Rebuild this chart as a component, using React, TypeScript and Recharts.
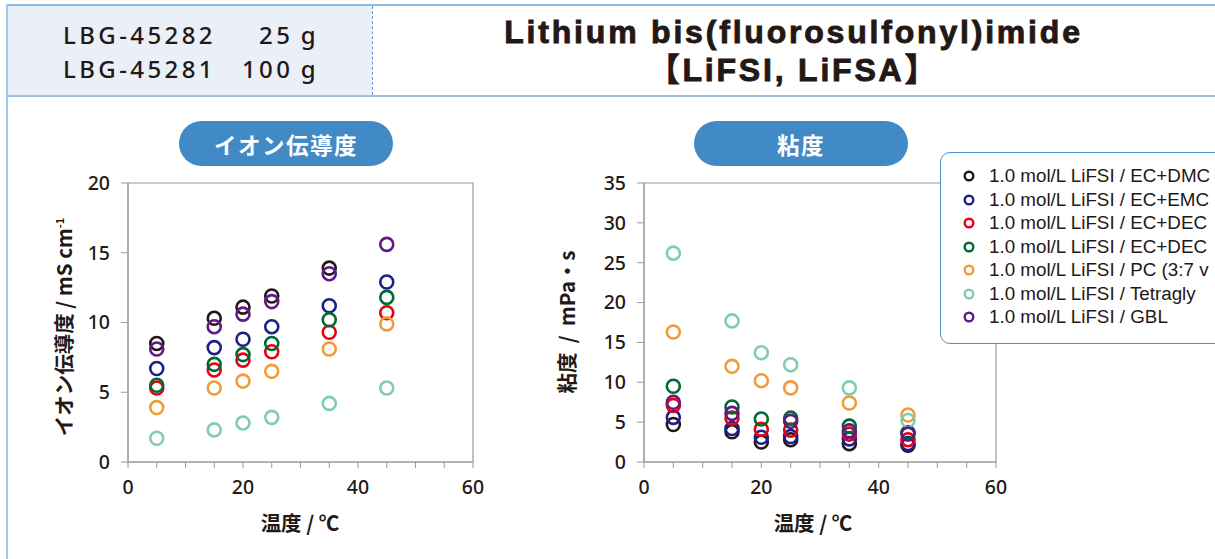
import React from "react";
import { ScatterChart, Scatter, XAxis, YAxis, ReferenceArea } from "recharts";

// temperatures (°C) measured for every electrolyte
const temps = [5, 15, 20, 25, 35, 45];

// legend labels as far as they are visible in the source (the box runs off the page)
const seriesNames = [
  "1.0 mol/L LiFSI / EC+DMC",
  "1.0 mol/L LiFSI / EC+EMC",
  "1.0 mol/L LiFSI / EC+DEC",
  "1.0 mol/L LiFSI / EC+DEC",
  "1.0 mol/L LiFSI / PC (3:7 v",
  "1.0 mol/L LiFSI / Tetragly",
  "1.0 mol/L LiFSI / GBL",
];
const seriesColors = ["#231815", "#1d2088", "#e60012", "#006934", "#f39a3a", "#80cdb2", "#601986"];

// ion conductivity, mS cm-1
const condDMC = [8.5, 10.3, 11.1, 11.9, 13.9, null];
const condEMC = [6.7, 8.2, 8.8, 9.7, 11.2, 12.9];
const condDEC37 = [5.3, 6.6, 7.3, 7.9, 9.3, 10.7];
const condDEC11 = [5.5, 7.0, 7.7, 8.5, 10.2, 11.8];
const condPC = [3.9, 5.3, 5.8, 6.5, 8.1, 9.9];
const condTG = [1.7, 2.3, 2.8, 3.2, 4.2, 5.3];
const condGBL = [8.1, 9.7, 10.6, 11.5, 13.5, 15.6];

// viscosity, mPa s
const viscDMC = [4.7, 3.8, 2.5, 2.8, 2.3, 2.1];
const viscEMC = [5.6, 4.2, 3.1, 3.2, 2.9, 2.3];
const viscDEC37 = [7.1, 5.5, 4.1, 4.0, 3.5, 2.8];
const viscDEC11 = [9.5, 6.9, 5.4, 5.5, 4.5, 3.7];
const viscPC = [16.3, 12.0, 10.2, 9.3, 7.4, 5.9];
const viscTG = [26.2, 17.7, 13.7, 12.2, 9.3, 5.2];
const viscGBL = [7.5, 6.1, null, 5.1, 3.9, 3.5];

const condSeries = [condDMC, condEMC, condDEC37, condDEC11, condPC, condTG, condGBL];
const viscSeries = [viscDMC, viscEMC, viscDEC37, viscDEC11, viscPC, viscTG, viscGBL];

const xTicks = [0, 5, 10, 15, 20, 25, 30, 35, 40, 45, 50, 55, 60];
const condTicks = [0, 5, 10, 15, 20];
const viscTicks = [0, 5, 10, 15, 20, 25, 30, 35];

const INK = "#231815";
const AXIS = "#9a9a9a";
const PILL = "#418ac6";
const CJK = "'Noto Sans CJK JP', 'Noto Sans', sans-serif";

function toPoints(values: (number | null)[]) {
  return temps
    .map((t, i) => ({ t, v: values[i] }))
    .filter((p) => p.v !== null);
}

const ring = (color: string, r: number) => (props: any) => (
  <circle cx={props.cx} cy={props.cy} r={r} fill="none" stroke={color} strokeWidth={2.6} />
);

const tickStyle = { fontFamily: "'Noto Sans', sans-serif", fontSize: 19.5, fontWeight: 500, fill: INK };

function Panel({ series, yMax, yTicks, yWidth, right }: any) {
  return (
    <ScatterChart width={500} height={440} margin={{ top: 83, right, bottom: 48, left: 0 }}>
      <XAxis
        type="number"
        dataKey="t"
        domain={[0, 60]}
        ticks={xTicks}
        tickFormatter={(v: number) => (v % 20 === 0 ? String(v) : "")}
        interval={0}
        height={30}
        tickSize={6}
        tickMargin={12}
        stroke={AXIS}
        tick={tickStyle}
      />
      <YAxis
        type="number"
        dataKey="v"
        domain={[0, yMax]}
        ticks={yTicks}
        interval={0}
        width={yWidth}
        tickSize={7}
        tickMargin={11}
        stroke={AXIS}
        tick={tickStyle}
      />
      <ReferenceArea x1={0} x2={60} y1={0} y2={yMax} fill="none" stroke={AXIS} strokeWidth={1.2} />
      {series.map((vals: (number | null)[], i: number) => (
        <Scatter
          key={i}
          name={seriesNames[i]}
          data={toPoints(vals)}
          shape={ring(seriesColors[i], 6.5)}
          isAnimationActive={false}
        />
      ))}
    </ScatterChart>
  );
}

const abs = (s: React.CSSProperties): React.CSSProperties => ({ position: "absolute", ...s });

function Pill({ left, text }: { left: number; text: string }) {
  return (
    <div
      style={abs({
        left,
        top: 121,
        width: 214,
        height: 45,
        borderRadius: 23,
        background: PILL,
        color: "#fff",
        fontFamily: CJK,
        fontWeight: 700,
        fontSize: 22.5,
        letterSpacing: 1.5,
        display: "flex",
        alignItems: "center",
        justifyContent: "center",
      })}
    >
      {text}
    </div>
  );
}

const rotated = (cx: number, cy: number): React.CSSProperties =>
  abs({
    left: cx - 150,
    top: cy - 14,
    width: 300,
    height: 28,
    lineHeight: "28px",
    textAlign: "center",
    fontWeight: 700,
    fontSize: 20.5,
    transform: "rotate(-90deg)",
    whiteSpace: "pre",
  });

export default function App() {
  return (
    <div
      style={abs({
        left: 0,
        top: 0,
        width: 1215,
        height: 559,
        overflow: "hidden",
        background: "#fff",
        fontFamily: CJK,
        color: INK,
      })}
    >
      {/* header */}
      <div style={abs({ left: 7, top: 5, width: 365, height: 91, background: "#eaeff8" })} />
      <div style={abs({ left: 6, top: 4, width: 1209, height: 2, background: "#8fb9de" })} />
      <div style={abs({ left: 6, top: 95, width: 1209, height: 2, background: "#9bc2e4" })} />
      <div style={abs({ left: 6, top: 4, width: 2, height: 555, background: "#a3c7e8" })} />
      <div style={abs({ left: 372, top: 6, height: 89, borderLeft: "1px dashed #5b9bd5" })} />

      {[
        ["LBG-45282", "25\u2009g"],
        ["LBG-45281", "100\u2009g"],
      ].map(([code, qty], i) => (
        <div
          key={code}
          style={abs({
            left: 63,
            top: 20 + i * 34,
            width: 256,
            display: "flex",
            justifyContent: "space-between",
            fontFamily: "'Noto Sans', sans-serif",
            fontWeight: 500,
            fontSize: 24,
            letterSpacing: 3.4,
            lineHeight: "30px",
          })}
        >
          <span>{code}</span>
          <span>{qty}</span>
        </div>
      ))}

      <div
        style={abs({
          left: 372,
          top: 13,
          width: 843,
          textAlign: "center",
          fontFamily: "'Liberation Sans', 'Noto Sans CJK JP', sans-serif",
          fontWeight: 700,
          fontSize: 32,
          letterSpacing: 2.8,
          lineHeight: "38px",
          WebkitTextStroke: "0.9px #231815",
        })}
      >
        <div>Lithium bis(fluorosulfonyl)imide</div>
        <div>【LiFSI, LiFSA】</div>
      </div>

      <Pill left={179} text="イオン伝導度" />
      <Pill left={694} text="粘度" />

      {/* charts */}
      <div style={abs({ left: 0, top: 100 })}>
        <Panel series={condSeries} yMax={20} yTicks={condTicks} yWidth={128} right={27} />
      </div>
      <div style={abs({ left: 520, top: 100 })}>
        <Panel series={viscSeries} yMax={35} yTicks={viscTicks} yWidth={124} right={24} />
      </div>

      {/* axis titles */}
      <div style={abs({ left: 200, top: 507, width: 200, textAlign: "center", fontWeight: 700, fontSize: 20.5 })}>
        温度 / ℃
      </div>
      <div style={abs({ left: 713, top: 507, width: 200, textAlign: "center", fontWeight: 700, fontSize: 20.5 })}>
        温度 / ℃
      </div>
      <div style={rotated(59, 327)}>
        イオン伝導度 / mS cm<sup style={{ fontSize: 11 }}>-1</sup>
      </div>
      <div style={rotated(566, 322)}>{"粘度  /  mPa・s"}</div>

      {/* legend */}
      <div
        style={abs({
          left: 940,
          top: 152,
          width: 320,
          height: 190,
          border: "1.5px solid #4a8fd0",
          borderRadius: 10,
          background: "#fff",
        })}
      >
        {seriesNames.map((name, i) => (
          <div
            key={i}
            style={abs({
              left: 0,
              top: 12 + i * 23.5,
              height: 22,
              display: "flex",
              alignItems: "center",
              whiteSpace: "nowrap",
              fontFamily: "'Liberation Sans', sans-serif",
              fontSize: 18.8,
              lineHeight: "22px",
            })}
          >
            <svg width={48} height={22} style={{ display: "block" }}>
              <circle cx={28} cy={11} r={4.3} fill="none" stroke={seriesColors[i]} strokeWidth={2.4} />
            </svg>
            <span style={{ lineHeight: "22px" }}>{name}</span>
          </div>
        ))}
      </div>
    </div>
  );
}
